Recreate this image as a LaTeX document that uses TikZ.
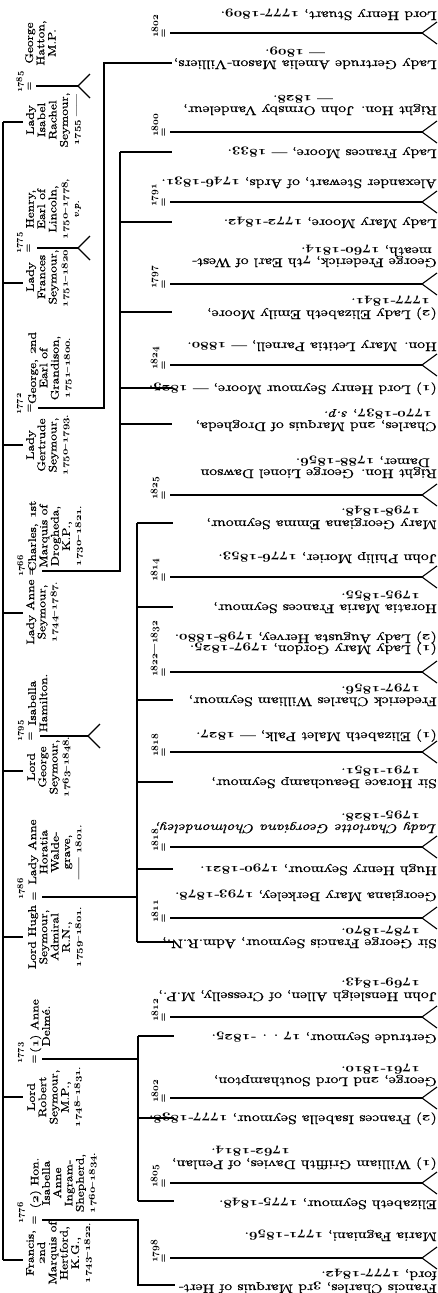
\documentclass[tikz,border=0pt]{standalone}
\usepackage{fontspec}
\setmainfont{lmroman10-regular.otf}[FakeBold=0.7, ItalicFont=lmroman10-italic.otf, BoldFont=lmroman10-bold.otf]
\begin{document}
\newcommand\os[1]{{\usefont{OML}{cmm}{b}{it}#1}}
\newcommand\yy[2]{\os{#1}-\os{#2}}
\newcommand\py[2]{\os{#1}--\os{#2}}
\newcommand\dts[1]{{\fontsize{9}{9}\selectfont #1}}
\newcommand\cmarr[3]{%
 \node[cyr] (#1y) at (155,#2+5) {#3};
 \node[eqs] (#1e) at (164,#2) {=};
 \coordinate (#1s) at (170,#2);
 \coordinate (#1v) at (422,#2);
 \coordinate (#1a) at (437,#2-11);
 \coordinate (#1b) at (437,#2+11);
 \draw[ln] (#1s) -- (#1v);
 \draw[ln] (#1a) -- (#1v) -- (#1b);}
\newcommand\cl[4]{\node[cnode] (#1) at (#2,#3) {#4};}
\begin{tikzpicture}[x=1pt,y=-1pt,
  ln/.style={line width=1.1pt},
  pnode/.style={rotate=90, xscale=1.22, anchor=north, inner sep=0pt, align=center, font=\fontsize{11}{11.3}\selectfont},
  cnode/.style={rotate=180, xscale=1.25, anchor=west, inner sep=0pt, text height=7.5pt, text depth=2.5pt, font=\fontsize{12.5}{12}\selectfont},
  cyr/.style={rotate=90, anchor=west, inner sep=0pt, font=\fontsize{10}{10}\selectfont},
  pyr/.style={rotate=90, inner sep=0pt, font=\fontsize{9.5}{9.5}\selectfont},
  eqs/.style={rotate=90, inner sep=0pt, font=\fontsize{11}{11}\selectfont},
]
\useasboundingbox (0,0) rectangle (438,1293);
\fill[white] (0,0) rectangle (438,1293);

% ---------- spine of first generation
\foreach \n/\yv in {1/122,2/283,3/445,4/613,5/771,6/937,7/1097,8/1260}{
  \coordinate (sp\n) at (3,\yv);
  \coordinate (pt\n) at (23,\yv);
  \draw[ln] (sp\n) -- (pt\n);
}
\draw[ln] (sp1) -- (sp8);

% ---------- 1: Lady Isabel Rachel
\node[pnode] (p1) at (26,120) {Lady\\Isabel\\Rachel\\Seymour,\\\dts{\os{1755} ——}};
\node[pnode] (s1) at (25,43) {George\\Hatton,\\M.P.};
\node[pyr] (y1) at (20,82) {\os{1785}};
\node[eqs] (e1) at (30,86) {=};
\coordinate (m1s) at (36,86); \coordinate (m1v) at (78,86);
\coordinate (m1a) at (90,74); \coordinate (m1b) at (90,98);
\draw[ln] (m1s) -- (m1v); \draw[ln] (m1a) -- (m1v) -- (m1b);

% ---------- 2: Lady Frances
\node[pnode] (p2) at (26,277) {Lady\\Frances\\Seymour,\\\dts{\py{1751}{1820}.}};
\node[pnode] (s2) at (26,209) {Henry,\\Earl of\\Lincoln,\\\dts{\py{1750}{1778},}\\\dts{\emph{v.p.}}};
\node[pyr] (y2) at (20,243) {\os{1775}};
\node[eqs] (e2) at (29,248) {=};
\coordinate (m2s) at (37,248); \coordinate (m2v) at (78,248);
\coordinate (m2a) at (90,236); \coordinate (m2b) at (90,260);
\draw[ln] (m2s) -- (m2v); \draw[ln] (m2a) -- (m2v) -- (m2b);

% ---------- 3: Lady Gertrude
\node[pnode] (p3) at (26,445) {Lady\\Gertrude\\Seymour,\\\dts{\py{1750}{1793}.}};
\node[pnode] (s3) at (28,368) {George, \os{2}nd\\Earl of\\Grandison,\\\dts{\py{1751}{1800}.}};
\node[pyr] (y3) at (20,404) {\os{1772}};
\node[eqs] (e3) at (30,408) {=};
\coordinate (m3s) at (38,408); \coordinate (m3c) at (104,408);
\coordinate (b3t) at (104,63); \coordinate (t3) at (172,63);
\draw[ln] (m3s) -- (m3c) -- (b3t) -- (t3);

% ---------- 4: Lady Anne
\node[pnode] (p4) at (26,612) {Lady Anne\\Seymour,\\\dts{\py{1744}{1787}.}};
\node[pnode] (s4) at (28,536) {Charles, \os{1}st\\Marquis of\\Drogheda,\\K.P.,\\\dts{\py{1730}{1821}.}};
\node[pyr] (y4) at (21,566) {\os{1766}};
\node[eqs] (e4) at (32,571) {=};
\coordinate (m4s) at (42,571); \coordinate (m4c) at (120,571);
\coordinate (b4t) at (120,152);
\draw[ln] (m4s) -- (m4c) -- (b4t);
\foreach \n/\yv in {1/152,2/222,3/312,4/388,5/424}{
  \coordinate (b4\n) at (120,\yv); \coordinate (t4\n) at (172,\yv);
  \draw[ln] (b4\n) -- (t4\n);}

% ---------- 5: Lord George
\node[pnode] (p5) at (27,767) {Lord\\George\\Seymour,\\\dts{\py{1763}{1848}.}};
\node[pnode] (s5) at (28,703) {Isabella\\Hamilton.};
\node[pyr] (y5) at (21,731) {\os{1795}};
\node[eqs] (e5) at (31,736) {=};
\coordinate (m5s) at (40,736); \coordinate (m5v) at (88,736);
\coordinate (m5a) at (100,724); \coordinate (m5b) at (100,748);
\draw[ln] (m5s) -- (m5v); \draw[ln] (m5a) -- (m5v) -- (m5b);

% ---------- 6: Lord Hugh
\node[pnode] (p6) at (28,937) {Lord Hugh\\Seymour,\\Admiral\\R.N.,\\\dts{\py{1759}{1801}.}};
\node[pnode] (s6) at (28,852) {Lady Anne\\Horatia\\Walde-\\grave,\\\dts{—— \os{1801}.}};
\node[pyr] (y6) at (21,889) {\os{1786}};
\node[eqs] (e6) at (35,896) {=};
\coordinate (m6s) at (42,897); \coordinate (m6c) at (137,897);
\coordinate (b6t) at (137,523); \coordinate (b6b) at (137,942);
\draw[ln] (m6s) -- (m6c); \draw[ln] (b6t) -- (b6b);
\foreach \n/\yv in {1/523,2/607,3/700,4/782,5/869,6/942}{
  \coordinate (b6\n) at (137,\yv); \coordinate (t6\n) at (173,\yv);
  \draw[ln] (b6\n) -- (t6\n);}

% ---------- 7: Lord Robert
\node[pnode] (p7) at (27,1097) {Lord\\Robert\\Seymour,\\M.P.,\\\dts{\py{1748}{1831}.}};
\node[pnode] (s7) at (30,1026) {(\os{1}) Anne\\Delmé.};
\node[pyr] (y7) at (21,1053) {\os{1773}};
\node[eqs] (e7) at (35,1059) {=};
\coordinate (m7s) at (42,1059); \coordinate (m7c) at (138,1059);
\coordinate (b7t) at (138,1036); \coordinate (b7b) at (138,1201);
\draw[ln] (m7s) -- (m7c); \draw[ln] (b7t) -- (b7b);
\foreach \n/\yv in {1/1036,2/1118,3/1201}{
  \coordinate (b7\n) at (138,\yv); \coordinate (t7\n) at (174,\yv);
  \draw[ln] (b7\n) -- (t7\n);}

% ---------- 8: Francis
\node[pnode] (p8) at (26,1253) {Francis,\\\os{2}nd\\Marquis of\\Hertford,\\K.G.,\\\dts{\py{1743}{1822}.}};
\node[pnode] (s8) at (30,1183) {(\os{2}) Hon.\\Isabella\\Anne\\Ingram-\\Shepherd,\\\dts{\py{1760}{1834}.}};
\node[pyr] (y8) at (21,1213) {\os{1776}};
\node[eqs] (e8) at (35,1220) {=};
\coordinate (m8s) at (42,1220); \coordinate (m8c) at (138,1220);
\coordinate (b8b) at (138,1285); \coordinate (t8) at (175,1285);
\draw[ln] (m8s) -- (m8c) -- (b8b) -- (t8);

% ---------- children marriages
\cmarr{ma}{33}{\os{1802}}
\cmarr{mb}{132}{\os{1800}}
\cmarr{mc}{202}{\os{1791}}
\cmarr{md}{284}{\os{1797}}
\cmarr{me}{365}{\os{1824}}
\cmarr{mf}{495}{\os{1825}}
\cmarr{mg}{577}{\os{1814}}
\cmarr{mh}{672}{\os{1822}—\os{1832}}
\cmarr{mi}{752}{\os{1818}}
\cmarr{mj}{847}{\os{1818}}
\cmarr{mk}{918}{\os{1811}}
\cmarr{ml}{1017}{\os{1812}}
\cmarr{mm}{1098}{\os{1802}}
\cmarr{mn}{1183}{\os{1805}}
\cmarr{mo}{1258}{\os{1798}}

% ---------- children text
\cl{c1}{437}{14}{Lord Henry Stuart, \yy{1777}{1809}.}
\cl{c2a}{437}{63}{Lady Gertrude Amelia Mason-Villiers,}
\cl{c2b}{325}{52}{— \os{1809}.}
\cl{c3a}{437}{109}{Right Hon. John Ormsby Vandeleur,}
\cl{c3b}{333}{98}{— \os{1828}.}
\cl{c4}{437}{152}{Lady Frances Moore, — \os{1833}.}
\cl{c5}{437}{182}{Alexander Stewart, of Ards, \yy{1746}{1831}.}
\cl{c6}{437}{222}{Lady Mary Moore, \yy{1772}{1842}.}
\cl{c7a}{437}{261}{George Frederick, \os{7}th Earl of West-}
\cl{c7b}{432}{250}{meath, \yy{1760}{1814}.}
\cl{c8a}{437}{313}{(\os{2}) Lady Elizabeth Emily Moore,}
\cl{c8b}{430}{301}{\yy{1777}{1841}.}
\cl{c9}{437}{345}{Hon. Mary Letitia Parnell, — \os{1880}.}
\cl{c10}{437}{388}{(\os{1}) Lord Henry Seymour Moore, — \os{1825}.}
\cl{c11a}{437}{425}{Charles, \os{2}nd Marquis of Drogheda,}
\cl{c11b}{432}{414}{\yy{1770}{1837}, \emph{s.p.}}
\cl{c12a}{437}{472}{Right Hon. George Lionel Dawson}
\cl{c12b}{430}{461}{Damer, \yy{1788}{1856}.}
\cl{c13a}{437}{523}{Mary Georgiana Emma Seymour,}
\cl{c13b}{420}{511}{\yy{1798}{1848}.}
\cl{c14}{437}{557}{John Philip Morier, \yy{1776}{1853}.}
\cl{c15a}{437}{607}{Horatia Maria Frances Seymour,}
\cl{c15b}{420}{596}{\yy{1795}{1855}.}
\cl{c16a}{437}{648}{(\os{1}) Lady Mary Gordon, \yy{1797}{1825}.}
\cl{c16b}{437}{637}{(\os{2}) Lady Augusta Hervey, \yy{1798}{1880}.}
\cl{c17a}{437}{700}{Frederick Charles William Seymour,}
\cl{c17b}{420}{689}{\yy{1797}{1856}.}
\cl{c18}{437}{735}{(\os{1}) Elizabeth Malet Palk, — \os{1827}.}
\cl{c19a}{437}{782}{Sir Horace Beauchamp Seymour,}
\cl{c19b}{420}{771}{\yy{1791}{1851}.}
\cl{c20a}{437}{827}{\emph{Lady Charlotte Georgiana Cholmondeley,}}
\cl{c20b}{420}{816}{\yy{1795}{1828}.}
\cl{c21}{437}{869}{Hugh Henry Seymour, \yy{1790}{1821}.}
\cl{c22}{437}{895}{Georgiana Mary Berkeley, \yy{1793}{1878}.}
\cl{c23a}{437}{942}{Sir George Francis Seymour, Adm.R.N.,}
\cl{c23b}{420}{931}{\yy{1787}{1870}.}
\cl{c24a}{437}{995}{John Hensleigh Allen, of Cresselly, M.P.,}
\cl{c24b}{420}{983}{\yy{1769}{1843}.}
\cl{c25}{437}{1037}{Gertrude Seymour, \os{17} . . -\os{1825}.}
\cl{c26a}{437}{1080}{George, \os{2}nd Lord Southampton,}
\cl{c26b}{420}{1069}{\yy{1761}{1810}.}
\cl{c27}{437}{1118}{(\os{2}) Frances Isabella Seymour, \yy{1777}{1838}.}
\cl{c28a}{437}{1163}{(\os{1}) William Griffith Davies, of Penlan,}
\cl{c28b}{290}{1151}{\yy{1762}{1814}.}
\cl{c29}{437}{1203}{Elizabeth Seymour, \yy{1775}{1848}.}
\cl{c30}{437}{1235}{Maria Fagniani, \yy{1771}{1856}.}
\cl{c31a}{437}{1287}{Francis Charles, \os{3}rd Marquis of Hert-}
\cl{c31b}{437}{1274}{ford, \yy{1777}{1842}.}
\end{tikzpicture}
\end{document}
